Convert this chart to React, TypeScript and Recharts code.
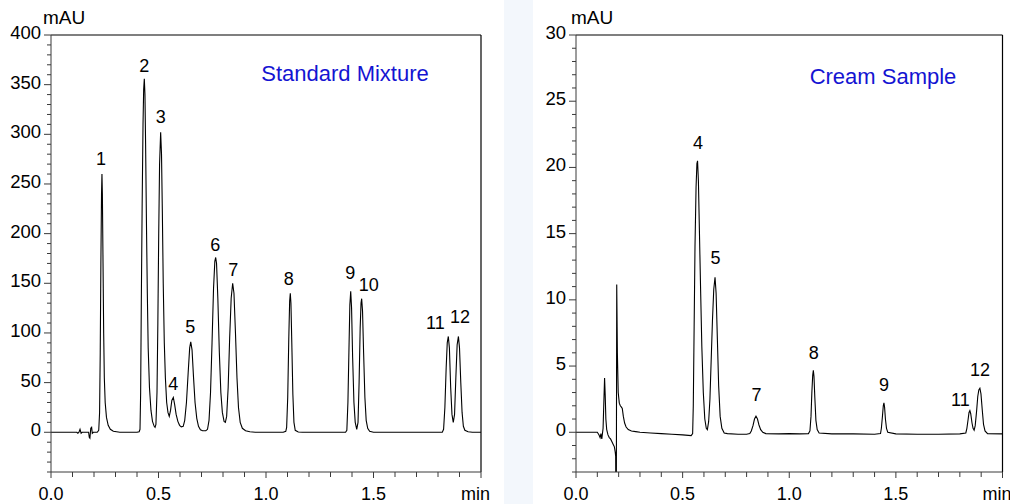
import React from 'react';
import { ComposedChart, Line, Scatter, XAxis, YAxis, ReferenceLine } from 'recharts';

// ---------- Standard Mixture trace (time in min, signal in mAU) ----------
const stdTime = [
  0, 0.12, 0.125, 0.13, 0.135, 0.14, 0.145, 0.175, 0.178, 0.181, 0.185, 0.189, 0.192, 0.197, 0.215,
  0.222, 0.226, 0.229, 0.232, 0.235, 0.237, 0.239, 0.242, 0.245, 0.248, 0.252, 0.258, 0.266, 0.276, 0.29, 0.32,
  0.40, 0.410, 0.414, 0.417, 0.420, 0.424, 0.428, 0.431, 0.434, 0.437, 0.440, 0.444, 0.448, 0.452, 0.458, 0.465, 0.472, 0.480, 0.484,
  0.488, 0.493, 0.497, 0.501, 0.505, 0.510, 0.514, 0.518, 0.522, 0.527, 0.532, 0.538, 0.544, 0.550,
  0.556, 0.562, 0.569, 0.575, 0.582, 0.590, 0.598, 0.606,
  0.615, 0.622, 0.630, 0.638, 0.645, 0.650, 0.656, 0.663, 0.670, 0.678, 0.686, 0.695, 0.705, 0.720,
  0.728, 0.735, 0.742, 0.749, 0.756, 0.762, 0.766, 0.770, 0.776, 0.783, 0.790, 0.797, 0.805, 0.811,
  0.817, 0.824, 0.831, 0.838, 0.845, 0.851, 0.858, 0.865, 0.872, 0.880, 0.890, 0.905, 0.925, 0.95,
  1.08, 1.092, 1.096, 1.101, 1.106, 1.110, 1.113, 1.116, 1.120, 1.125, 1.130, 1.136, 1.15, 1.17,
  1.37, 1.376, 1.381, 1.386, 1.390, 1.394, 1.398, 1.403, 1.409, 1.415, 1.422,
  1.428, 1.433, 1.438, 1.442, 1.445, 1.449, 1.454, 1.460, 1.466, 1.473, 1.482, 1.50,
  1.82, 1.826, 1.832, 1.838, 1.843, 1.848, 1.853, 1.859, 1.865, 1.871,
  1.877, 1.883, 1.889, 1.895, 1.900, 1.906, 1.912, 1.918, 1.925, 1.94, 1.96, 2.0,
];
const stdSignal = [
  0, 0, -1, 0, 3, -1, 0, 0, -5, -6, 4, 5, -1, 0, 0,
  2, 20, 80, 170, 240, 260, 240, 170, 100, 55, 30, 15, 7, 3, 1, 0,
  0, 0.5, 3, 40, 130, 230, 310, 345, 356, 340, 290, 210, 140, 85, 45, 22, 11, 6, 5,
  8, 40, 110, 200, 270, 302, 280, 220, 150, 90, 55, 30, 20, 16,
  22, 32, 35, 28, 18, 11, 7, 5.5,
  6, 12, 30, 60, 85, 91, 83, 55, 30, 14, 6, 2.5, 1.5, 1.5,
  3, 12, 40, 90, 145, 172, 176, 170, 135, 80, 40, 20, 11, 10,
  16, 45, 95, 135, 150, 140, 100, 55, 25, 10, 4, 1.5, 0.5, 0,
  0, 1, 5, 35, 95, 132, 140, 130, 90, 38, 10, 2, 0.3, 0,
  0, 2, 30, 85, 128, 142, 125, 75, 30, 10, 3,
  10, 50, 105, 130, 134.5, 122, 80, 35, 12, 4, 1, 0,
  0, 3, 25, 65, 90, 96.5, 85, 45, 18, 10,
  18, 55, 88, 96.5, 85, 50, 20, 6, 2, 0.5, 0, 0,
];

// ---------- Cream Sample trace ----------
const creamTime = [
  0, 0.10, 0.108, 0.113, 0.117, 0.121, 0.127, 0.131, 0.134, 0.137, 0.140, 0.144, 0.150, 0.156, 0.162, 0.168,
  0.174, 0.180, 0.184, 0.186, 0.187, 0.189, 0.191, 0.194, 0.198, 0.203, 0.208, 0.213, 0.217, 0.222, 0.228,
  0.235, 0.245, 0.26, 0.28, 0.30, 0.35, 0.40, 0.45, 0.50, 0.54, 0.547,
  0.550, 0.554, 0.558, 0.563, 0.567, 0.570, 0.574, 0.579, 0.584, 0.590, 0.597, 0.604, 0.611, 0.616,
  0.622, 0.628, 0.634, 0.640, 0.646, 0.652, 0.657, 0.663, 0.669, 0.676, 0.684, 0.695, 0.71, 0.76, 0.80, 0.815,
  0.822, 0.830, 0.837, 0.844, 0.851, 0.858, 0.866, 0.876, 0.89, 0.95, 1.0, 1.05, 1.09,
  1.097, 1.102, 1.106, 1.110, 1.113, 1.116, 1.120, 1.125, 1.131, 1.14, 1.2, 1.3, 1.4, 1.428,
  1.432, 1.437, 1.441, 1.444, 1.447, 1.451, 1.456, 1.462, 1.5, 1.6, 1.7, 1.8, 1.828,
  1.833, 1.839, 1.843, 1.847, 1.851, 1.857, 1.862, 1.867,
  1.872, 1.878, 1.884, 1.889, 1.894, 1.899, 1.905, 1.911, 1.918, 1.93, 2.0,
];
const creamSignal = [
  0, 0, -0.2, -0.4, -0.1, -0.5, 0.3, 2.5, 4.1, 2.8, 1.0, 0.2, -0.2, -0.4, -0.5, -0.7,
  -0.9, -1.1, -1.5, -1.8, -6, -6, 11.15, 6, 3, 2.2, 2.0, 1.9, 1.8, 1.2, 0.7,
  0.4, 0.2, 0.1, 0.05, 0, -0.05, -0.1, -0.15, -0.2, -0.25, -0.1,
  2, 8, 14, 18.5, 20.3, 20.5, 19, 15, 11, 6.5, 3, 1, 0.3, 0.2,
  0.8, 2.5, 5.5, 8.5, 10.8, 11.7, 10.5, 7, 3.5, 1.2, 0.3, -0.05, -0.1, -0.15, -0.15, -0.1,
  0.1, 0.5, 1.0, 1.22, 1.0, 0.55, 0.2, 0, -0.1, -0.12, -0.1, -0.12, -0.1,
  0.1, 1.2, 3.0, 4.3, 4.67, 4.2, 2.6, 0.9, 0.2, -0.05, -0.12, -0.12, -0.15, -0.1,
  0.3, 1.2, 2.0, 2.22, 1.9, 1.0, 0.3, 0, -0.12, -0.15, -0.15, -0.12, -0.05,
  0.3, 1.0, 1.5, 1.64, 1.4, 0.7, 0.3, 0.15,
  0.5, 1.5, 2.7, 3.2, 3.33, 2.9, 1.7, 0.6, 0.1, -0.1, -0.12,
];

// ---------- Peak labels (apex) ----------
const stdPeakNames = ['1', '2', '3', '4', '5', '6', '7', '8', '9', '10', '11', '12'];
const stdPeakTime = [0.237, 0.434, 0.510, 0.569, 0.650, 0.766, 0.845, 1.113, 1.394, 1.445, 1.848, 1.895];
const stdPeakHeight = [260, 356, 302, 35, 91, 176, 150, 140, 142, 134.5, 96.5, 96.5];

const creamPeakNames = ['4', '5', '7', '8', '9', '11', '12'];
const creamPeakTime = [0.570, 0.652, 0.844, 1.113, 1.444, 1.847, 1.894];
const creamPeakHeight = [20.5, 11.7, 1.22, 4.67, 2.22, 1.64, 3.33];

// ---------- Ticks ----------
const xTicks = [0, 0.1, 0.2, 0.3, 0.4, 0.5, 0.6, 0.7, 0.8, 0.9, 1.0, 1.1, 1.2, 1.3, 1.4, 1.5, 1.6, 1.7, 1.8, 1.9, 2.0];
const xLabelTicks = [0, 0.5, 1.0, 1.5];
const stdYTicks = [
  -40, -30, -20, -10, 0, 10, 20, 30, 40, 50, 60, 70, 80, 90, 100, 110, 120, 130, 140, 150, 160, 170, 180, 190, 200,
  210, 220, 230, 240, 250, 260, 270, 280, 290, 300, 310, 320, 330, 340, 350, 360, 370, 380, 390, 400,
];
const stdYLabelTicks = [0, 50, 100, 150, 200, 250, 300, 350, 400];
const creamYTicks = [
  -3, -2, -1, 0, 1, 2, 3, 4, 5, 6, 7, 8, 9, 10, 11, 12, 13, 14, 15, 16, 17, 18, 19, 20, 21, 22, 23, 24, 25, 26, 27, 28, 29, 30,
];
const creamYLabelTicks = [0, 5, 10, 15, 20, 25, 30];

// label pixel offsets relative to apex (styling)
const stdLabelOffset: Record<string, [number, number]> = {
  '1': [-1, -15], '2': [0, -13], '3': [0, -15], '4': [0, -14], '5': [-0.5, -15], '6': [-0.5, -12],
  '7': [0.5, -13], '8': [-1.5, -14], '9': [-0.5, -18], '10': [7, -14], '11': [-13, -13], '12': [1.5, -19],
};
const creamLabelOffset: Record<string, [number, number]> = {
  '4': [0.5, -18], '5': [0.5, -19.5], '7': [0.5, -21], '8': [0.5, -17], '9': [0, -17.5], '11': [-9.5, -11], '12': [0, -18.5],
};

const FONT = '"Liberation Sans", Arial, Helvetica, sans-serif';
const AXIS_COLOR = '#3a3a3a';

const stdData = stdTime.map((t, i) => ({ t, v: stdSignal[i] }));
const creamData = creamTime.map((t, i) => ({ t, v: creamSignal[i] }));
const stdPeaks = stdPeakNames.map((name, i) => ({ t: stdPeakTime[i], v: stdPeakHeight[i], name }));
const creamPeaks = creamPeakNames.map((name, i) => ({ t: creamPeakTime[i], v: creamPeakHeight[i], name }));

const near = (a: number, list: number[]) => list.some((b) => Math.abs(a - b) < 1e-6);

const XTick = (props: any) => {
  const { x, y, payload } = props;
  const v = payload.value as number;
  const major = near(v, xLabelTicks) || near(v, [2.0]);
  return (
    <g>
      <line x1={x} x2={x} y1={y} y2={y + (major ? 6 : 5)} stroke={AXIS_COLOR} strokeWidth={1} />
      {near(v, xLabelTicks) && (
        <text x={x} y={y + 28} textAnchor="middle" fontSize={18} fontFamily={FONT} fill="#000">
          {v.toFixed(1)}
        </text>
      )}
      {near(v, [2.0]) && (
        <text x={x + 9} y={y + 28} textAnchor="end" fontSize={18} fontFamily={FONT} fill="#000">
          min
        </text>
      )}
    </g>
  );
};

const makeYTick = (labels: number[]) => (props: any) => {
  const { x, y, payload } = props;
  const v = payload.value as number;
  const major = near(v, labels);
  return (
    <g>
      <line x1={x - (major ? 7 : 4)} x2={x} y1={y} y2={y} stroke={AXIS_COLOR} strokeWidth={1} />
      {major && (
        <text x={x - 10} y={y + 4} textAnchor="end" fontSize={18.5} fontFamily={FONT} fill="#000">
          {v}
        </text>
      )}
    </g>
  );
};

const makeLabelShape = (offsets: Record<string, [number, number]>) => (props: any) => {
  const { cx, cy, payload } = props;
  const off = offsets[payload.name] || [0, -15];
  return (
    <text
      x={cx + off[0]}
      y={cy + off[1]}
      textAnchor="middle"
      dominantBaseline="central"
      fontSize={18}
      fontFamily={FONT}
      fill="#000"
    >
      {payload.name}
    </text>
  );
};

const StdYTick = makeYTick(stdYLabelTicks);
const CreamYTick = makeYTick(creamYLabelTicks);
const StdLabel = makeLabelShape(stdLabelOffset);
const CreamLabel = makeLabelShape(creamLabelOffset);

export default function App() {
  return (
    <div
      style={{
        position: 'absolute',
        left: 0,
        top: 0,
        width: 1010,
        height: 504,
        background: '#ffffff',
        overflow: 'hidden',
        fontFamily: FONT,
      }}
    >
      <div style={{ position: 'absolute', left: 504, top: 0, width: 29, height: 504, background: '#f3f7fc' }} />

      {/* Left panel */}
      <div style={{ position: 'absolute', left: 0, top: 0 }}>
        <ComposedChart width={504} height={504} margin={{ top: 35, left: 50, right: 23, bottom: 31 }}>
          <XAxis
            type="number"
            dataKey="t"
            domain={[0, 2]}
            ticks={xTicks}
            interval={0}
            height={1}
            tickSize={0}
            tickMargin={0}
            tick={<XTick />}
            axisLine={{ stroke: AXIS_COLOR }}
            tickLine={false}
            allowDataOverflow
          />
          <YAxis
            type="number"
            dataKey="v"
            domain={[-40, 400]}
            ticks={stdYTicks}
            interval={0}
            width={1}
            tickSize={0}
            tickMargin={0}
            tick={<StdYTick />}
            axisLine={{ stroke: AXIS_COLOR }}
            tickLine={false}
            allowDataOverflow
          />
          <ReferenceLine y={400} stroke="#000" strokeWidth={1.2} />
          <ReferenceLine x={2} stroke="#000" strokeWidth={1.2} />
          <Line
            data={stdData}
            dataKey="v"
            type="linear"
            stroke="#000"
            strokeWidth={1.1}
            dot={false}
            activeDot={false}
            isAnimationActive={false}
          />
          <Scatter data={stdPeaks} dataKey="v" shape={StdLabel} isAnimationActive={false} />
        </ComposedChart>
        <div style={{ position: 'absolute', left: 43, top: 7, fontSize: 19, color: '#000', lineHeight: '22px' }}>mAU</div>
        <div
          style={{
            position: 'absolute',
            left: 225,
            width: 240,
            top: 60,
            textAlign: 'center',
            fontSize: 22,
            lineHeight: '28px',
            color: '#1414d2',
          }}
        >
          Standard Mixture
        </div>
      </div>

      {/* Right panel */}
      <div style={{ position: 'absolute', left: 533, top: 0 }}>
        <ComposedChart width={477} height={504} margin={{ top: 35, left: 42, right: 7.5, bottom: 31 }}>
          <XAxis
            type="number"
            dataKey="t"
            domain={[0, 2]}
            ticks={xTicks}
            interval={0}
            height={1}
            tickSize={0}
            tickMargin={0}
            tick={<XTick />}
            axisLine={{ stroke: AXIS_COLOR }}
            tickLine={false}
            allowDataOverflow
          />
          <YAxis
            type="number"
            dataKey="v"
            domain={[-3, 30]}
            ticks={creamYTicks}
            interval={0}
            width={1}
            tickSize={0}
            tickMargin={0}
            tick={<CreamYTick />}
            axisLine={{ stroke: AXIS_COLOR }}
            tickLine={false}
            allowDataOverflow
          />
          <ReferenceLine y={30} stroke="#000" strokeWidth={1.2} />
          <ReferenceLine x={2} stroke="#000" strokeWidth={1.2} />
          <Line
            data={creamData}
            dataKey="v"
            type="linear"
            stroke="#000"
            strokeWidth={1.1}
            dot={false}
            activeDot={false}
            isAnimationActive={false}
          />
          <Scatter data={creamPeaks} dataKey="v" shape={CreamLabel} isAnimationActive={false} />
        </ComposedChart>
        <div style={{ position: 'absolute', left: 38, top: 7, fontSize: 19, color: '#000', lineHeight: '22px' }}>mAU</div>
        <div
          style={{
            position: 'absolute',
            left: 230,
            width: 240,
            top: 63,
            textAlign: 'center',
            fontSize: 22,
            lineHeight: '28px',
            color: '#1414d2',
          }}
        >
          Cream Sample
        </div>
      </div>
    </div>
  );
}
